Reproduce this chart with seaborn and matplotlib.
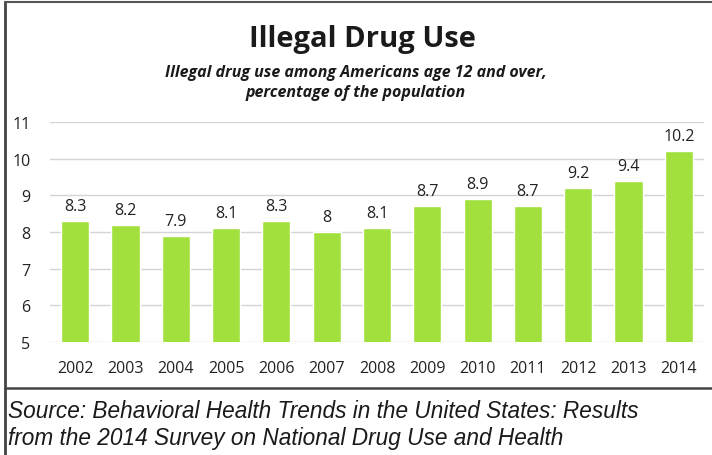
import matplotlib
matplotlib.use("Agg")
import matplotlib.pyplot as plt
from matplotlib.lines import Line2D
import seaborn as sns
import pandas as pd

years = ["2002", "2003", "2004", "2005", "2006", "2007", "2008",
         "2009", "2010", "2011", "2012", "2013", "2014"]
values = [8.3, 8.2, 7.9, 8.1, 8.3, 8.0, 8.1, 8.7, 8.9, 8.7, 9.2, 9.4, 10.2]
value_labels = ["8.3", "8.2", "7.9", "8.1", "8.3", "8", "8.1",
                "8.7", "8.9", "8.7", "9.2", "9.4", "10.2"]
yticks = [5, 6, 7, 8, 9, 10, 11]

title = "Illegal Drug Use"
subtitle = "Illegal drug use among Americans age 12 and over,\npercentage of the population"
source = ("Source: Behavioral Health Trends in the United States: Results\n"
          "from the 2014 Survey on National Drug Use and Health")

sns.set_theme(style="white")
plt.rcParams['font.family'] = ['Open Sans', 'DejaVu Sans']

df = pd.DataFrame({"year": years, "value": values})

fig = plt.figure(figsize=(7.12, 4.56), dpi=100)
ax = fig.add_axes([50/712, (456-343)/456, (704-50)/712, (343-123)/456])

sns.barplot(data=df, x="year", y="value", color="#a2e03e", saturation=1,
            width=0.56, ax=ax, zorder=3)

ax.set_ylim(5, 11)
ax.set_xlim(-0.5, 12.5)
ax.set_yticks(yticks)
ax.yaxis.grid(True, color="#d4d4d4", linewidth=1.0, zorder=0)
ax.set_axisbelow(True)
for s in ax.spines.values():
    s.set_visible(False)
ax.set_xlabel("")
ax.set_ylabel("")
ax.tick_params(axis="x", length=0, pad=13, labelsize=11.5, labelcolor="#222222")
ax.tick_params(axis="y", length=0, pad=14, labelsize=11.5, labelcolor="#222222")

for cont in ax.containers:
    ax.bar_label(cont, labels=value_labels, padding=5, fontsize=11.5, color="#222222")

fig.text(362/712, 1 - 40/456, title, ha="center", va="center",
         fontsize=21, fontweight="bold", color="#1a1a1a")
fig.text(356/712, 1 - 83/456, subtitle, ha="center", va="center",
         fontsize=11.5, fontweight="bold", fontstyle="italic", color="#1a1a1a",
         linespacing=1.3)

fig.text(8/712, 1 - 425/456, source, ha="left", va="center",
         fontsize=16.3, fontstyle="italic", color="#1a1a1a",
         family=["Liberation Sans", "DejaVu Sans"], linespacing=1.22)

# borders
fig.add_artist(Line2D([5/712, 5/712], [0, 1 - 3/456], color="#444444", linewidth=2))
fig.add_artist(Line2D([5/712, 1], [1 - 3/456, 1 - 3/456], color="#555555", linewidth=1.5))
fig.add_artist(Line2D([5/712, 1], [1 - 389/456, 1 - 389/456], color="#444444", linewidth=1.8))

fig.savefig("out.png", dpi=100)
